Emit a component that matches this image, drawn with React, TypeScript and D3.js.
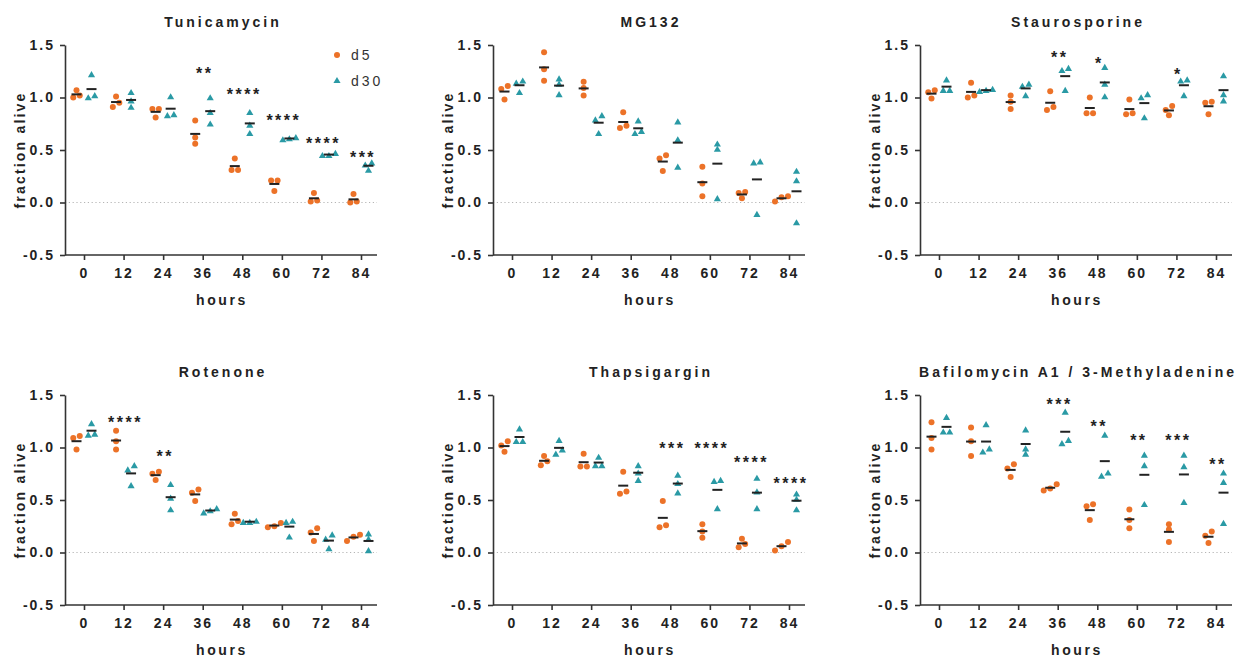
import * as d3 from "d3";
import { useEffect, useRef } from "react";

const hours = [0, 12, 24, 36, 48, 60, 72, 84];
const yTicks = [-0.5, 0, 0.5, 1.0, 1.5];

// replicate values per time point
const tunicamycinD5 = [[1.07, 1.0, 1.02], [1.01, 0.91, 0.95], [0.89, 0.89, 0.81], [0.78, 0.62, 0.56], [0.42, 0.31, 0.31], [0.21, 0.21, 0.11], [0.09, 0.01, 0.02], [0.08, 0.0, 0.01]];
const tunicamycinD30 = [[1.22, 1.0, 1.02], [1.05, 0.91, 0.97], [1.01, 0.83, 0.84], [1.0, 0.86, 0.75], [0.86, 0.74, 0.66], [0.62, 0.61, 0.6], [0.47, 0.45, 0.45], [0.38, 0.31, 0.36]];
const tunicamycinStars = [[36, "**", 1.26], [48, "****", 1.06], [60, "****", 0.81], [72, "****", 0.6], [84, "***", 0.46]];

const mg132D5 = [[1.11, 1.08, 0.98], [1.43, 1.27, 1.16], [1.15, 1.09, 1.02], [0.86, 0.71, 0.73], [0.45, 0.42, 0.3], [0.34, 0.18, 0.06], [0.1, 0.09, 0.04], [0.06, 0.05, 0.01]];
const mg132D30 = [[1.16, 1.14, 1.05], [1.18, 1.13, 1.03], [0.83, 0.79, 0.66], [0.78, 0.66, 0.68], [0.77, 0.6, 0.34], [0.56, 0.51, 0.04], [0.39, 0.38, -0.11], [0.3, 0.21, -0.19]];
const mg132Stars = [];

const staurosporineD5 = [[0.99, 1.07, 1.05], [1.14, 1.0, 1.02], [1.02, 0.89, 0.96], [1.06, 0.88, 0.91], [1.0, 0.85, 0.85], [0.98, 0.84, 0.85], [0.92, 0.83, 0.88], [0.96, 0.95, 0.84]];
const staurosporineD30 = [[1.17, 1.07, 1.07], [1.07, 1.08, 1.06], [1.13, 1.11, 1.02], [1.28, 1.26, 1.07], [1.29, 1.13, 1.01], [1.03, 1.0, 0.81], [1.17, 1.16, 1.02], [1.21, 1.03, 0.97]];
const staurosporineStars = [[36, "**", 1.41], [48, "*", 1.36], [72, "*", 1.25]];

const rotenoneD5 = [[1.11, 1.09, 0.98], [1.16, 1.06, 0.98], [0.77, 0.75, 0.69], [0.6, 0.57, 0.49], [0.37, 0.3, 0.27], [0.28, 0.24, 0.25], [0.23, 0.19, 0.11], [0.17, 0.15, 0.11]];
const rotenoneD30 = [[1.23, 1.12, 1.13], [0.83, 0.79, 0.64], [0.65, 0.52, 0.41], [0.42, 0.4, 0.38], [0.3, 0.29, 0.29], [0.3, 0.29, 0.15], [0.17, 0.13, 0.04], [0.18, 0.13, 0.02]];
const rotenoneStars = [[12, "****", 1.27], [24, "**", 0.95]];

const thapsigarginD5 = [[1.06, 1.02, 0.96], [0.92, 0.87, 0.83], [0.94, 0.82, 0.82], [0.77, 0.56, 0.58], [0.49, 0.24, 0.26], [0.27, 0.2, 0.14], [0.13, 0.08, 0.05], [0.1, 0.06, 0.02]];
const thapsigarginD30 = [[1.18, 1.06, 1.06], [1.07, 0.98, 0.94], [0.91, 0.83, 0.83], [0.83, 0.76, 0.69], [0.74, 0.66, 0.57], [0.69, 0.68, 0.42], [0.71, 0.58, 0.42], [0.56, 0.51, 0.41]];
const thapsigarginStars = [[48, "***", 1.02], [60, "****", 1.02], [72, "****", 0.89], [84, "****", 0.69]];

const bafilomycinD5 = [[1.24, 1.09, 0.98], [1.19, 1.06, 0.92], [0.84, 0.8, 0.72], [0.65, 0.59, 0.61], [0.46, 0.44, 0.31], [0.41, 0.31, 0.23], [0.27, 0.22, 0.1], [0.2, 0.16, 0.09]];
const bafilomycinD30 = [[1.29, 1.15, 1.15], [1.22, 0.96, 0.99], [1.17, 0.94, 0.99], [1.34, 1.04, 1.07], [1.12, 0.73, 0.76], [0.93, 0.83, 0.46], [0.93, 0.82, 0.48], [0.76, 0.67, 0.28]];
const bafilomycinStars = [[36, "***", 1.44], [48, "**", 1.23], [60, "**", 1.1], [72, "***", 1.1], [84, "**", 0.87]];

const panels = [
  { title: "Tunicamycin", d5: tunicamycinD5, d30: tunicamycinD30, stars: tunicamycinStars },
  { title: "MG132", d5: mg132D5, d30: mg132D30, stars: mg132Stars },
  { title: "Staurosporine", d5: staurosporineD5, d30: staurosporineD30, stars: staurosporineStars },
  { title: "Rotenone", d5: rotenoneD5, d30: rotenoneD30, stars: rotenoneStars },
  { title: "Thapsigargin", d5: thapsigarginD5, d30: thapsigarginD30, stars: thapsigarginStars },
  { title: "Bafilomycin A1 / 3-Methyladenine", d5: bafilomycinD5, d30: bafilomycinD30, stars: bafilomycinStars },
];

const ORANGE = "#ec7228";
const TEAL = "#2a9aa5";
const INK = "#222";
const FONT = "'Liberation Sans', Arial, Helvetica, sans-serif";

const colX = [65, 493, 920];
const rowY = [45, 395];
const plotW = 312;
const plotH = 210;

// spread points that sit at nearly the same height, like a column scatter
function dodge(vals: number[], y: (v: number) => number, gap = 6.5, minDy = 5) {
  const order = vals.map((_, i) => i).sort((a, b) => vals[b] - vals[a]);
  const offs = vals.map(() => 0);
  let cluster: number[] = [];
  const flush = () => {
    cluster
      .sort((a, b) => vals[a] - vals[b])
      .forEach((k, j) => (offs[k] = (j - (cluster.length - 1) / 2) * gap));
    cluster = [];
  };
  order.forEach((k) => {
    const last = cluster[cluster.length - 1];
    if (cluster.length && Math.abs(y(vals[last]) - y(vals[k])) >= minDy) flush();
    cluster.push(k);
  });
  flush();
  return offs;
}

function App() {
  const svgRef = useRef(null);

  useEffect(() => {
    const svg = d3.select(svgRef.current);
    svg.selectAll("*").remove();
    const tri = d3.symbol().type(d3.symbolTriangle).size(22);

    panels.forEach((p, i) => {
      const left = colX[i % 3];
      const top = rowY[Math.floor(i / 3)];
      const g = svg.append("g").attr("transform", `translate(${left},${top})`);

      const x = d3.scalePoint().domain(hours.map(String)).range([19, 296]);
      const y = d3.scaleLinear().domain([-0.5, 1.5]).range([plotH, 0]);

      // dotted zero line
      g.append("line")
        .attr("x1", 0).attr("x2", plotW)
        .attr("y1", y(0)).attr("y2", y(0))
        .attr("stroke", "#b5b5b5")
        .attr("stroke-width", 1)
        .attr("stroke-dasharray", "1.2,2.6");

      // y axis
      const ya = g.append("g").call(
        d3.axisLeft(y).tickValues(yTicks).tickFormat((d) => d.toFixed(1)).tickSize(5).tickSizeOuter(0).tickPadding(5)
      );
      // x axis
      const xa = g.append("g").attr("transform", `translate(0,${plotH})`).call(
        d3.axisBottom(x).tickSize(5).tickSizeOuter(0).tickPadding(8)
      );
      xa.select(".domain").remove();
      g.append("line")
        .attr("x1", 0).attr("x2", plotW)
        .attr("y1", plotH).attr("y2", plotH)
        .attr("stroke", "#333").attr("stroke-width", 1.6);

      [ya, xa].forEach((a) => {
        a.selectAll("path, line").attr("stroke", "#333").attr("stroke-width", 1.6);
        a.selectAll("text")
          .attr("fill", INK)
          .style("font-family", FONT)
          .style("font-size", "14px")
          .style("font-weight", "bold")
          .style("letter-spacing", "2px");
      });

      // title and axis labels
      g.append("text")
        .attr("x", plotW / 2 + 2).attr("y", -18)
        .attr("text-anchor", "middle")
        .style("font-family", FONT).style("font-size", "14px").style("font-weight", "bold")
        .style("letter-spacing", "3px")
        .attr("fill", INK)
        .text(p.title);
      g.append("text")
        .attr("x", plotW / 2 + 1).attr("y", plotH + 50)
        .attr("text-anchor", "middle")
        .style("font-family", FONT).style("font-size", "14px").style("font-weight", "bold")
        .style("letter-spacing", "2.6px")
        .attr("fill", INK)
        .text("hours");
      g.append("text")
        .attr("transform", `translate(-40,${plotH / 2}) rotate(-90)`)
        .attr("text-anchor", "middle")
        .style("font-family", FONT).style("font-size", "14px").style("font-weight", "bold")
        .style("letter-spacing", "2.2px")
        .attr("fill", INK)
        .text("fraction alive");

      const series = [
        { key: "d5", data: p.d5, color: ORANGE, shift: -7.5 },
        { key: "d30", data: p.d30, color: TEAL, shift: 7.5 },
      ];

      series.forEach((s) => {
        s.data.forEach((vals, h) => {
          const cx = x(String(hours[h])) + s.shift;
          const offs = dodge(vals, y);
          vals.forEach((v, k) => {
            if (s.key === "d5") {
              g.append("circle")
                .attr("cx", cx + offs[k]).attr("cy", y(v))
                .attr("r", 3).attr("fill", s.color);
            } else {
              g.append("path")
                .attr("d", tri)
                .attr("transform", `translate(${cx + offs[k]},${y(v) + 0.8})`)
                .attr("fill", s.color);
            }
          });
          const m = d3.mean(vals);
          g.append("line")
            .attr("x1", cx - 5).attr("x2", cx + 5)
            .attr("y1", y(m)).attr("y2", y(m))
            .attr("stroke", "#222").attr("stroke-width", 2);
        });
      });

      // significance marks
      p.stars.forEach(([h, label, lvl]) => {
        g.append("text")
          .attr("x", x(String(h)) + 2)
          .attr("y", y(lvl) + 9)
          .attr("text-anchor", "middle")
          .style("font-family", FONT).style("font-size", "16px").style("font-weight", "bold")
          .style("letter-spacing", "2.5px")
          .attr("fill", INK)
          .text(label);
      });

      // legend (first panel only)
      if (i === 0) {
        const lg = g.append("g").attr("transform", "translate(272,10)");
        lg.append("circle").attr("cx", 0).attr("cy", 0).attr("r", 3).attr("fill", ORANGE);
        lg.append("path").attr("d", tri).attr("transform", "translate(0,26)").attr("fill", TEAL);
        [["d5", 0], ["d30", 25.5]].forEach(([t, dy]) => {
          lg.append("text")
            .attr("x", 14).attr("y", (dy as number) + 5)
            .style("font-family", FONT).style("font-size", "14px")
            .style("letter-spacing", "3px")
            .attr("fill", "#333")
            .text(t as string);
        });
      }
    });
  }, []);

  return (
    <svg
      ref={svgRef}
      width={1245}
      height={659}
      style={{ position: "absolute", left: 0, top: 0, background: "#fff" }}
    ></svg>
  );
}

export default App;
